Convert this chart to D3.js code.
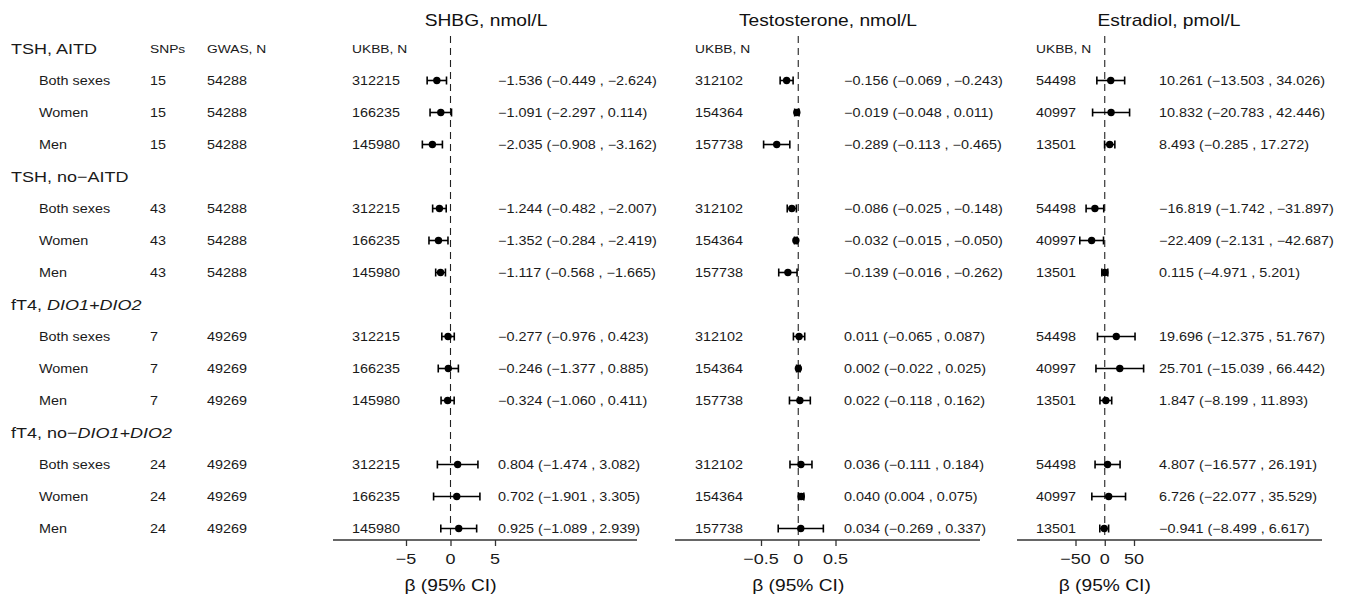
<!DOCTYPE html>
<html><head><meta charset="utf-8">
<script src="https://cdn.jsdelivr.net/npm/d3@7"></script>
<style>html,body{margin:0;padding:0;background:#fff;}svg{display:block;}</style>
</head><body>
<svg id="c" width="1353" height="601"></svg>
<script>
// ---------- data ----------
const groupPrefix = ["TSH, AITD", "TSH, no\u2212AITD", "fT4, ", "fT4, no\u2212"];
const groupItalic = ["", "", "DIO1+DIO2", "DIO1+DIO2"];
const sexes = ["Both sexes", "Women", "Men"];
const snps = [15, 43, 7, 24];
const gwasN = [54288, 54288, 49269, 49269];

const panelTitles = ["SHBG, nmol/L", "Testosterone, nmol/L", "Estradiol, pmol/L"];
const panelTicks = [[-5, 0, 5], [-0.5, 0, 0.5], [-50, 0, 50]];
const ukbbN = [
  [312215, 166235, 145980],
  [312102, 154364, 157738],
  [54498, 40997, 13501]
];
// [estimate, ci1, ci2] as printed, 12 rows per panel (4 groups x 3 sexes)
const shbg = [
  [-1.536, -0.449, -2.624], [-1.091, -2.297, 0.114], [-2.035, -0.908, -3.162],
  [-1.244, -0.482, -2.007], [-1.352, -0.284, -2.419], [-1.117, -0.568, -1.665],
  [-0.277, -0.976, 0.423], [-0.246, -1.377, 0.885], [-0.324, -1.060, 0.411],
  [0.804, -1.474, 3.082], [0.702, -1.901, 3.305], [0.925, -1.089, 2.939]
];
const testosterone = [
  [-0.156, -0.069, -0.243], [-0.019, -0.048, 0.011], [-0.289, -0.113, -0.465],
  [-0.086, -0.025, -0.148], [-0.032, -0.015, -0.050], [-0.139, -0.016, -0.262],
  [0.011, -0.065, 0.087], [0.002, -0.022, 0.025], [0.022, -0.118, 0.162],
  [0.036, -0.111, 0.184], [0.040, 0.004, 0.075], [0.034, -0.269, 0.337]
];
const estradiol = [
  [10.261, -13.503, 34.026], [10.832, -20.783, 42.446], [8.493, -0.285, 17.272],
  [-16.819, -1.742, -31.897], [-22.409, -2.131, -42.687], [0.115, -4.971, 5.201],
  [19.696, -12.375, 51.767], [25.701, -15.039, 66.442], [1.847, -8.199, 11.893],
  [4.807, -16.577, 26.191], [6.726, -22.077, 35.529], [-0.941, -8.499, 6.617]
];
const panelData = [shbg, testosterone, estradiol];

// ---------- layout ----------
const W = 1353, H = 601;
const SX = 1.2; // horizontal text stretch of the reference
const FONT = "'Liberation Sans', Arial, Helvetica, sans-serif";
const axisY = 540;
const panels = [
  {left: 333, right: 637, tickPx: [406, 495], nX: 352, estX: 498, titleX: 486},
  {left: 675, right: 980, tickPx: [761, 835.5], nX: 695, estX: 844, titleX: 828},
  {left: 1017, right: 1322, tickPx: [1075.5, 1134], nX: 1036, estX: 1159, titleX: 1169}
];

const svg = d3.select("#c");
svg.append("rect").attr("width", W).attr("height", H).attr("fill", "#fff");

// row index: 0 = header of group 0, then 3 rows, etc. (16 lines)
const y = d3.scaleLinear().domain([0, 15]).range([48.5, 528.5]);

function txt(g, x, yy, s, size, opts = {}) {
  const t = g.append("text")
    .attr("transform", `translate(${x},${yy}) scale(${SX},1)`)
    .attr("font-family", FONT)
    .attr("font-size", size)
    .attr("fill", opts.fill || "#1a1a1a")
    .attr("text-anchor", opts.anchor || "start")
    .attr("dy", "0.36em");
  if (s !== null) t.text(s);
  return t;
}

const g = svg.append("g");

// left columns
txt(g, 150, y(0), "SNPs", 11.5);
txt(g, 207, y(0), "GWAS, N", 11.5);
groupPrefix.forEach((p, gi) => {
  const hy = y(gi * 4);
  const t = txt(g, 11, hy, null, 15);
  t.append("tspan").text(p);
  if (groupItalic[gi]) t.append("tspan").attr("font-style", "italic").text(groupItalic[gi]);
  sexes.forEach((s, si) => {
    const ry = y(gi * 4 + si + 1);
    txt(g, 39, ry, s, 12);
    txt(g, 150, ry, String(snps[gi]), 12);
    txt(g, 207, ry, String(gwasN[gi]), 12);
  });
});

const f3 = d3.format(".3f");

panels.forEach((P, pi) => {
  const ticks = panelTicks[pi];
  const x = d3.scaleLinear().domain([ticks[0], ticks[2]]).range(P.tickPx);
  const pg = svg.append("g");

  // title
  txt(pg, P.titleX, 20, panelTitles[pi], 16, {anchor: "middle", fill: "#111"});
  txt(pg, P.nX, y(0), "UKBB, N", 11.5);

  // zero dashed line
  pg.append("line")
    .attr("x1", x(0)).attr("x2", x(0))
    .attr("y1", 36).attr("y2", axisY)
    .attr("stroke", "#222").attr("stroke-width", 1.1)
    .attr("stroke-dasharray", "7,5");

  // axis line
  pg.append("line")
    .attr("x1", P.left).attr("x2", P.right)
    .attr("y1", axisY).attr("y2", axisY)
    .attr("stroke", "#333").attr("stroke-width", 1.4);

  const ax = pg.append("g").attr("transform", `translate(0,${axisY})`)
    .call(d3.axisBottom(x).tickValues(ticks).tickSize(6).tickPadding(5)
      .tickFormat(d => d3.format("")(d)));
  ax.select(".domain").remove();
  ax.selectAll(".tick line").attr("stroke", "#333").attr("stroke-width", 1.3);
  ax.selectAll(".tick text").remove();
  ticks.forEach(t => {
    txt(pg, x(t), 559, d3.format("")(t), 15, {anchor: "middle"});
  });

  // x label
  txt(pg, x(0), 585, "\u03b2 (95% CI)", 16, {anchor: "middle", fill: "#111"});

  // rows
  const data = panelData[pi];
  data.forEach((d, k) => {
    const gi = Math.floor(k / 3), si = k % 3;
    const ry = y(gi * 4 + si + 1);
    const lo = Math.min(d[1], d[2]), hi = Math.max(d[1], d[2]);
    txt(pg, P.nX, ry, String(ukbbN[pi][si]), 12);
    pg.append("line").attr("x1", x(lo)).attr("x2", x(hi)).attr("y1", ry).attr("y2", ry)
      .attr("stroke", "#000").attr("stroke-width", 1.6);
    [lo, hi].forEach(v => {
      pg.append("line").attr("x1", x(v)).attr("x2", x(v)).attr("y1", ry - 4).attr("y2", ry + 4)
        .attr("stroke", "#000").attr("stroke-width", 1.6);
    });
    pg.append("circle").attr("cx", x(d[0])).attr("cy", ry).attr("r", 3.7).attr("fill", "#000");
    txt(pg, P.estX, ry, `${f3(d[0])} (${f3(d[1])} , ${f3(d[2])})`, 12);
  });
});
</script>
</body></html>
